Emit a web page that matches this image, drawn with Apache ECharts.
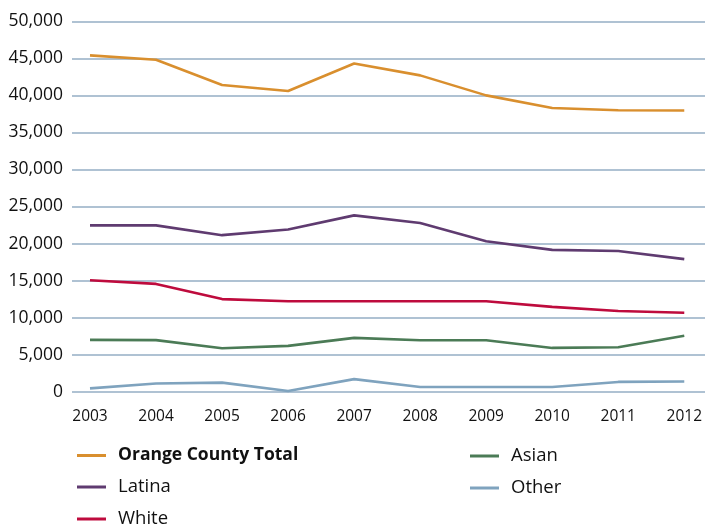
<!DOCTYPE html>
<html>
<head>
<meta charset="utf-8">
<script src="https://cdn.jsdelivr.net/npm/echarts@6/dist/echarts.min.js"></script>
<style>
html,body{margin:0;padding:0;background:#fff;}
#chart{width:705px;height:527px;}
</style>
</head>
<body>
<div id="chart"></div>
<script>
var years = ['2003','2004','2005','2006','2007','2008','2009','2010','2011','2012'];
var orangeCountyTotal = [45400, 44800, 41400, 40600, 44300, 42700, 40000, 38300, 38000, 37950];
var latina = [22450, 22450, 21130, 21900, 23800, 22770, 20300, 19150, 19000, 17900];
var white = [15050, 14550, 12500, 12200, 12200, 12200, 12200, 11450, 10900, 10650];
var asian = [7000, 6960, 5870, 6190, 7270, 6950, 6950, 5910, 6000, 7550];
var other = [450, 1100, 1230, 100, 1700, 640, 640, 640, 1320, 1380];
var yTicks = [0, 5000, 10000, 15000, 20000, 25000, 30000, 35000, 40000, 45000, 50000];

var FONT = 'Open Sans';
var colors = {
  total: '#D98F2E',
  latina: '#5F3B70',
  white: '#BE0B3D',
  asian: '#4B7B56',
  other: '#7FA3BE'
};

function mkSeries(name, data, color) {
  return {
    name: name, type: 'line', data: data,
    xAxisIndex: 1, yAxisIndex: 1,
    symbol: 'none', smooth: false,
    lineStyle: { color: color, width: 2.6 },
    itemStyle: { color: color },
    emphasis: { disabled: true }
  };
}

var legendText = { fontSize: 18.5, color: '#111', fontFamily: FONT, padding: [0, 0, 0, 7] };

var chart = echarts.init(document.getElementById('chart'), null, { renderer: 'canvas' });
var option = {
  animation: false,
  backgroundColor: '#ffffff',
  textStyle: { fontFamily: FONT },
  grid: [
    { left: 72, right: 0, top: 21.3, bottom: 135.3 },
    { left: 90, right: 17, top: 21.3, bottom: 135.3 }
  ],
  xAxis: [
    { gridIndex: 0, type: 'category', data: years, show: false },
    {
      gridIndex: 1, type: 'category', data: years, boundaryGap: false,
      axisLine: { show: false }, axisTick: { show: false },
      axisLabel: { margin: 17, fontSize: 15.5, color: '#111', fontFamily: FONT, interval: 0 },
      splitLine: { show: false }
    }
  ],
  yAxis: [
    {
      gridIndex: 0, type: 'value', min: yTicks[0], max: yTicks[yTicks.length - 1], interval: yTicks[1] - yTicks[0],
      axisLine: { show: false }, axisTick: { show: false },
      axisLabel: {
        margin: 9, fontSize: 17.5, color: '#111', fontFamily: FONT,
        formatter: function (v) { return v.toLocaleString('en-US'); }
      },
      splitLine: { show: true, lineStyle: { color: '#94AEC4', width: 1.5 } }
    },
    {
      gridIndex: 1, type: 'value', min: yTicks[0], max: yTicks[yTicks.length - 1], interval: yTicks[1] - yTicks[0],
      show: false
    }
  ],
  legend: [
    {
      orient: 'vertical', left: 77, top: 446.5, height: 120, padding: 0, itemGap: 13,
      itemWidth: 29, itemHeight: 3, icon: 'rect',
      textStyle: legendText,
      data: [
        { name: 'Orange County Total', textStyle: { fontWeight: 'bold', fontSize: 17.5 } },
        { name: 'Latina' },
        { name: 'White' }
      ]
    },
    {
      orient: 'vertical', left: 470, top: 446.5, height: 120, padding: 0, itemGap: 13,
      itemWidth: 29, itemHeight: 3, icon: 'rect',
      textStyle: legendText,
      data: [{ name: 'Asian' }, { name: 'Other' }]
    }
  ],
  series: [
    mkSeries('Orange County Total', orangeCountyTotal, colors.total),
    mkSeries('Latina', latina, colors.latina),
    mkSeries('White', white, colors.white),
    mkSeries('Asian', asian, colors.asian),
    mkSeries('Other', other, colors.other)
  ]
};
chart.setOption(option);
</script>
</body>
</html>
